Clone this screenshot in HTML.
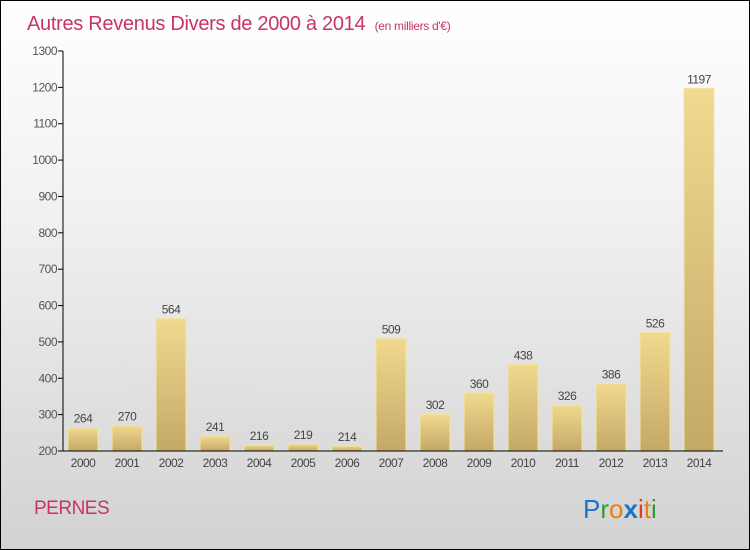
<!DOCTYPE html>
<html><head><meta charset="utf-8"><style>
body{margin:0}
#c{position:relative;width:748px;height:548px;border:1px solid #000;background:linear-gradient(#fff 0%,#f0f0f0 40%,#d2d2d2 100%);font-family:"Liberation Sans",sans-serif;overflow:hidden}
</style></head><body>
<div id="c">
<svg id="s" width="748" height="548" xmlns="http://www.w3.org/2000/svg">
<defs><linearGradient id="g" x1="0" y1="0" x2="0" y2="1"><stop offset="0" stop-color="#f1d98f"/><stop offset="1" stop-color="#c4a966"/></linearGradient></defs>
<text x="26" y="29" font-size="20" fill="#c8336a" letter-spacing="-0.3">Autres Revenus Divers de 2000 à 2014 <tspan font-size="12" dx="4">(en milliers d'€)</tspan></text>
<text x="33" y="513" font-size="19" fill="#c8336a" letter-spacing="-0.5">PERNES</text>
<text x="582" y="517" font-size="26"><tspan fill="#1a73c9">P</tspan><tspan fill="#2e9b3a">r</tspan><tspan fill="#f07d12">o</tspan><tspan fill="#1a73c9" font-weight="bold">x</tspan><tspan fill="#e23a20">i</tspan><tspan fill="#f07d12">t</tspan><tspan fill="#2e9b3a">i</tspan></text>
</svg></div>
<script>
const years=['2000','2001','2002','2003','2004','2005','2006','2007','2008','2009','2010','2011','2012','2013','2014'];
const values=[264,270,564,241,216,219,214,509,302,360,438,326,386,526,1197];
const yTicks=[200,300,400,500,600,700,800,900,1000,1100,1200,1300];
const s=document.getElementById('s');const NS='http://www.w3.org/2000/svg';
const y=v=>450-(v-200)*400/1100, x=i=>82+i*44;
function el(t,a,txt){const e=document.createElementNS(NS,t);for(const k in a)e.setAttribute(k,a[k]);if(txt!==undefined)e.textContent=txt;s.appendChild(e);return e;}
yTicks.forEach(t=>{
 const l=el('line',{x1:57,x2:62,y1:y(t),y2:y(t),stroke:'#000'});
 
 
 const tx=el('text',{x:56,y:y(t)+4,'font-size':12,fill:'#555','text-anchor':'end','letter-spacing':'-0.5'},t);
 
 
});
values.forEach((v,i)=>{
 const r=el('rect',{x:x(i)-15,y:y(v),width:30,height:450-y(v),fill:'url(#g)',stroke:'#f5e4a4','stroke-width':1});
 
 
 const t=el('text',{x:x(i),y:y(v)-5,'font-size':12,fill:'#444','text-anchor':'middle','letter-spacing':'-0.5'},v);
 
 
 const xl=el('text',{x:x(i),y:466,'font-size':12,fill:'#444','text-anchor':'middle','letter-spacing':'-0.5'},years[i]);
 
 
});
const ya=el('line',{x1:62,x2:62,y1:50,y2:450,stroke:'#000'});


const xa=el('line',{x1:62,x2:722,y1:450,y2:450,stroke:'#000'});


</script>
</body></html>
